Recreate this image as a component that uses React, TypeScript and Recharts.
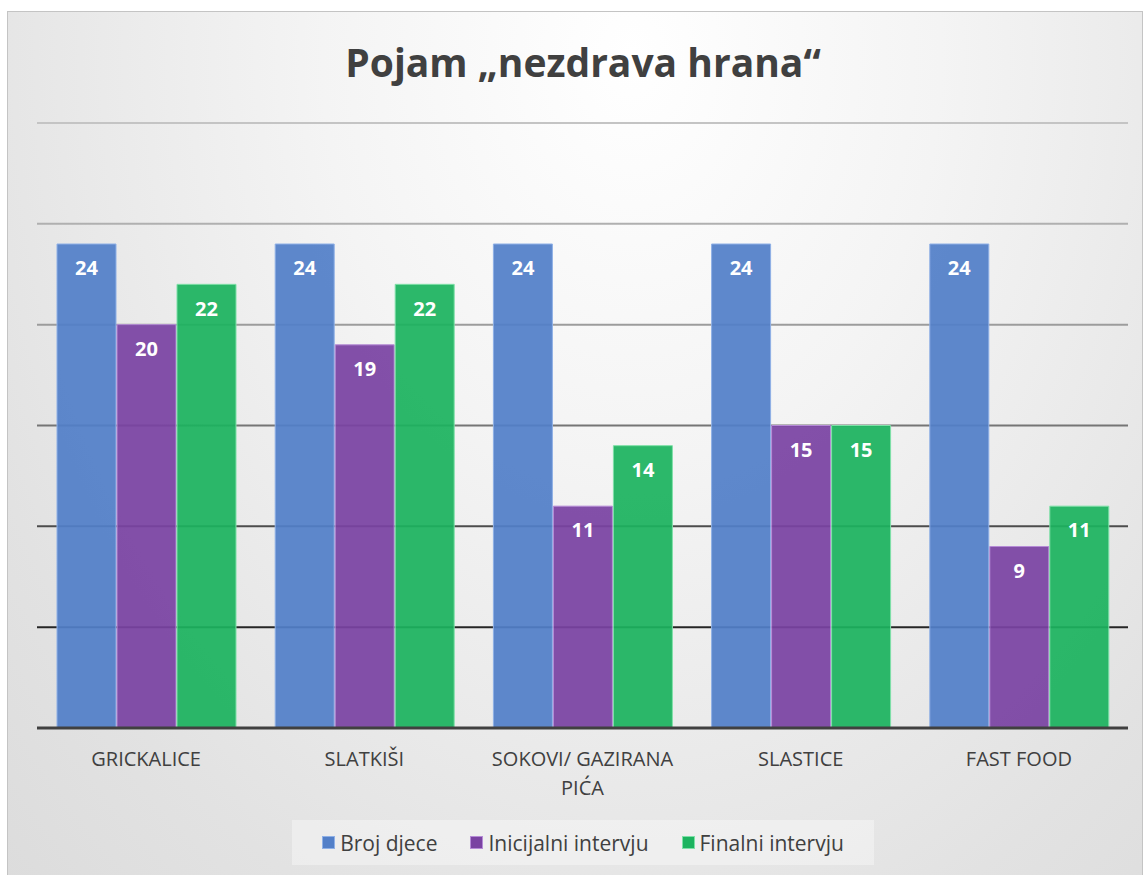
import React from 'react';
import { BarChart, Bar, XAxis, YAxis, CartesianGrid, LabelList, Legend } from 'recharts';

const categories = ['GRICKALICE', 'SLATKIŠI', 'SOKOVI/ GAZIRANA PIĆA', 'SLASTICE', 'FAST FOOD'];
const brojDjece = [24, 24, 24, 24, 24];
const inicijalni = [20, 19, 11, 15, 9];
const finalni = [22, 22, 14, 15, 11];
const yTicks = [0, 5, 10, 15, 20, 25, 30];

const series = [
  { key: 'broj', name: 'Broj djece', color: '#527fc8', edge: '#8fb0e6' },
  { key: 'inicijalni', name: 'Inicijalni intervju', color: '#7a43a2', edge: '#b58bd6' },
  { key: 'finalni', name: 'Finalni intervju', color: '#1cb35f', edge: '#7fe0a8' },
];

const data = categories.map((name, i) => ({
  name,
  broj: brojDjece[i],
  inicijalni: inicijalni[i],
  finalni: finalni[i],
}));

const FONT = '"Open Sans", "Noto Sans", sans-serif';

// splits long category names onto two lines, like Excel does
function CategoryTick(props: any) {
  const { x, y, payload } = props;
  const text: string = payload.value;
  let lines = [text];
  if (text.length > 14) {
    const idx = text.lastIndexOf(' ');
    lines = [text.slice(0, idx), text.slice(idx + 1)];
  }
  return (
    <g transform={`translate(${x},${y})`}>
      {lines.map((l, i) => (
        <text key={i} x={0} y={i * 29} dy={30} textAnchor="middle" fill="#404040" fontSize={20} fontFamily={FONT}>
          {l}
        </text>
      ))}
    </g>
  );
}

function LegendBox() {
  return (
    <div
      style={{
        display: 'flex',
        justifyContent: 'center',
        alignItems: 'center',
        gap: 33,
        background: 'rgba(255,255,255,0.35)',
        width: 582,
        height: 45,
        marginLeft: 284,
        fontFamily: FONT,
        fontSize: 21,
        color: '#404040',
      }}
    >
      {series.map((s) => (
        <span key={s.key} style={{ display: 'flex', alignItems: 'center' }}>
          <span style={{ width: 11, height: 11, background: s.color, border: `1px solid ${s.edge}`, marginRight: 5 }} />
          {s.name}
        </span>
      ))}
    </div>
  );
}

export default function App() {
  return (
    <div
      style={{
        position: 'absolute',
        left: 7,
        top: 11,
        width: 1134,
        height: 870,
        border: '1px solid #c4c4c4',
        background: 'radial-gradient(ellipse at 55% 5%, #ffffff 0%, #f4f4f4 35%, #e2e2e2 80%, #dcdcdc 100%)',
        overflow: 'hidden',
      }}
    >
      <div
        style={{
          position: 'absolute',
          top: 23,
          left: 0,
          width: 1150,
          textAlign: 'center',
          fontFamily: FONT,
          fontWeight: 700,
          fontSize: 39,
          color: '#404040',
        }}
      >
        Pojam „nezdrava hrana“
      </div>
      <BarChart
        width={1132}
        height={862}
        data={data}
        margin={{ top: 111, right: 12, bottom: 17, left: 29 }}
        barCategoryGap={20}
        barGap={1}
      >
        <defs>
          <linearGradient id="gridShade" gradientUnits="userSpaceOnUse" x1="0" y1="111" x2="0" y2="716">
            <stop offset="0%" stopColor="#c4c4c4" />
            <stop offset="35%" stopColor="#9a9a9a" />
            <stop offset="70%" stopColor="#444444" />
            <stop offset="100%" stopColor="#000000" />
          </linearGradient>
        </defs>
        <CartesianGrid vertical={false} stroke="url(#gridShade)" strokeWidth={2} />
        <XAxis
          dataKey="name"
          tick={<CategoryTick />}
          tickLine={false}
          axisLine={{ stroke: '#404040', strokeWidth: 3 }}
          interval={0}
          height={84}
        />
        <YAxis hide domain={[0, 30]} ticks={yTicks} />
        {series.map((s) => (
          <Bar
            key={s.key}
            dataKey={s.key}
            name={s.name}
            fill={s.color}
            fillOpacity={0.93}
            stroke={s.edge}
            strokeWidth={1}
            isAnimationActive={false}
          >
            <LabelList
              dataKey={s.key}
              position="insideTop"
              offset={17}
              fill="#ffffff"
              fontSize={20}
              fontWeight={700}
              fontFamily={FONT}
            />
          </Bar>
        ))}
        <Legend verticalAlign="bottom" content={<LegendBox />} wrapperStyle={{ bottom: 9, left: 0, width: 1132 }} />
      </BarChart>
    </div>
  );
}
